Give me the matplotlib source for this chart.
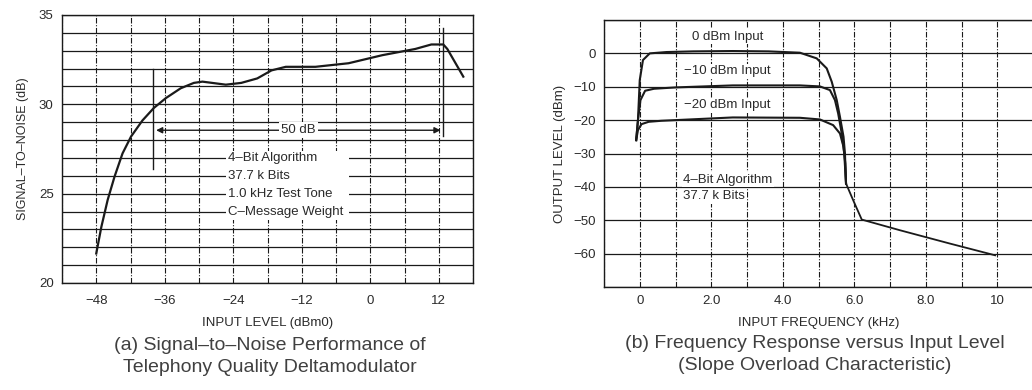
import matplotlib
matplotlib.use("Agg")
import matplotlib.pyplot as plt
from matplotlib.ticker import MultipleLocator, FixedLocator
from matplotlib.patches import Rectangle

plt.rcParams['font.family'] = ['Liberation Sans', 'DejaVu Sans']

# ---------------- data: (a) signal-to-noise ----------------
snr_input = [-48, -47.1, -46.0, -44.8, -43.4, -41.9, -39.9, -37.9, -35.8, -33.2, -30.9, -29.4,
             -27.7, -25.3, -22.6, -19.8, -17.3, -14.8, -9.6, -3.8, 2.1, 7.9, 10.7, 12.8, 13.5, 16.3]
snr_db = [21.65, 23.15, 24.65, 25.95, 27.25, 28.2, 29.1, 29.8, 30.35, 30.9, 31.2, 31.27,
          31.2, 31.1, 31.2, 31.45, 31.9, 32.1, 32.1, 32.3, 32.75, 33.1, 33.35, 33.35, 33.1, 31.55]
snr_xticks = [-48, -36, -24, -12, 0, 12]
snr_xticklabels = ['−48', '−36', '−24', '−12', '0', '12']
snr_yticks = [20, 25, 30, 35]
snr_note = ['4–Bit Algorithm', '37.7 k Bits', '1.0 kHz Test Tone', 'C–Message Weight']

# ---------------- data: (b) frequency response ----------------
freq_0dbm = [-0.1, -0.05, 0.0, 0.09, 0.28, 0.75, 1.5, 2.6, 3.6, 4.48, 4.95, 5.23, 5.37, 5.51, 5.6, 5.7, 5.74, 5.77]
level_0dbm = [-26, -20, -8, -2, 0, 0.4, 0.6, 0.7, 0.6, 0.2, -1.5, -4.5, -8.5, -14, -19, -25, -30, -39]
freq_10dbm = [-0.1, -0.05, 0.02, 0.15, 0.4, 1.0, 2.6, 4.48, 5.04, 5.32, 5.46, 5.55, 5.65, 5.72, 5.77]
level_10dbm = [-26, -20, -14, -11.2, -10.6, -10.2, -9.6, -9.6, -9.9, -11, -14, -18, -24, -30, -39]
freq_20dbm = [-0.1, -0.05, 0.05, 0.25, 0.6, 1.0, 2.6, 4.48, 5.04, 5.41, 5.6, 5.7, 5.75, 5.77]
level_20dbm = [-26, -23, -21.2, -20.5, -20.2, -20.0, -19.2, -19.3, -19.8, -21.5, -24, -28, -33, -39]
tail_freq = [5.77, 5.97, 6.21, 7.28, 8.68, 9.94]
tail_level = [-39, -44, -49.8, -53, -57, -60.5]
fr_xticks = [0, 2, 4, 6, 8, 10]
fr_xticklabels = ['0', '2.0', '4.0', '6.0', '8.0', '10']
fr_yticks = [0, -10, -20, -30, -40, -50, -60]
fr_yticklabels = ['0', '−10', '−20', '−30', '−40', '−50', '−60']
fr_curve_labels = ['0 dBm Input', '−10 dBm Input', '−20 dBm Input']
fr_note = ['4–Bit Algorithm', '37.7 k Bits']

INK = '#1a1a1a'
TXT = '#2a2a2a'
CAP = '#404040'
FS = 9.5
W, H = 1032, 390
fig = plt.figure(figsize=(W / 100, H / 100), dpi=100)
fig.patch.set_facecolor('white')

def style_axes(ax):
    for s in ax.spines.values():
        s.set_color(INK)
        s.set_linewidth(1.0)
    ax.tick_params(which='both', length=0, labelsize=FS, colors=TXT, pad=6)
    ax.xaxis.grid(True, which='both', color=INK, linewidth=0.8, linestyle=(0, (5, 1.5, 1, 1.5)))
    ax.yaxis.grid(True, which='both', color=INK, linewidth=0.9, linestyle='-')
    ax.set_axisbelow(True)

# ---------------- (a) ----------------
axa = fig.add_axes([62 / W, 1 - 283 / H, (473 - 62) / W, (283 - 15) / H])
axa.set_xlim(-54, 18)
axa.set_ylim(20, 35)
axa.xaxis.set_major_locator(FixedLocator(snr_xticks))
axa.set_xticklabels(snr_xticklabels)
axa.xaxis.set_minor_locator(MultipleLocator(6))
axa.yaxis.set_major_locator(FixedLocator(snr_yticks))
axa.yaxis.set_minor_locator(MultipleLocator(1))
style_axes(axa)
axa.tick_params(axis='x', pad=9)
axa.plot(snr_input, snr_db, color=INK, linewidth=1.6, zorder=3)

# 50 dB dynamic-range annotation
axa.plot([-38.0, -38.0], [26.4, 31.95], color=INK, linewidth=1.0, zorder=3)
axa.plot([12.8, 12.8], [28.2, 34.3], color=INK, linewidth=1.0, zorder=3)
axa.annotate('', xy=(-38.0, 28.55), xytext=(-12.6, 28.55),
             arrowprops=dict(arrowstyle='-|>', color=INK, lw=1.0, mutation_scale=9), zorder=3)
axa.annotate('', xy=(12.8, 28.55), xytext=(-12.6, 28.55),
             arrowprops=dict(arrowstyle='-|>', color=INK, lw=1.0, mutation_scale=9), zorder=3)
axa.text(-12.6, 28.55, '50 dB', ha='center', va='center', fontsize=FS, color=TXT,
         bbox=dict(facecolor='white', edgecolor='none', pad=1.5), zorder=4)
# white panel breaking the grid behind the conditions note
axa.add_patch(Rectangle((-25.3, 23.55), 21.6, 3.85, facecolor='white', edgecolor='none', zorder=2))
for i, line in enumerate(snr_note):
    axa.text(-24.9, 27.0 - i * 1.0, line, ha='left', va='center', fontsize=FS, color=TXT, zorder=4)

axa.set_ylabel('SIGNAL–TO–NOISE (dB)', fontsize=9, color=TXT, labelpad=7)
axa.set_xlabel('INPUT LEVEL (dBm0)', fontsize=9.5, color=TXT, labelpad=7)
fig.text(270 / W, 1 - 346 / H, '(a) Signal–to–Noise Performance of', ha='center', va='center',
         fontsize=14, color=CAP)
fig.text(270 / W, 1 - 367 / H, 'Telephony Quality Deltamodulator', ha='center', va='center',
         fontsize=14, color=CAP)

# ---------------- (b) ----------------
axb = fig.add_axes([604 / W, 1 - 287 / H, (1033 - 604) / W, (287 - 20) / H])
axb.set_xlim(-1, 11)
axb.set_ylim(-70, 10)
axb.xaxis.set_major_locator(FixedLocator(fr_xticks))
axb.set_xticklabels(fr_xticklabels)
axb.xaxis.set_minor_locator(MultipleLocator(1))
axb.yaxis.set_major_locator(FixedLocator(fr_yticks))
axb.set_yticklabels(fr_yticklabels)
axb.yaxis.set_minor_locator(MultipleLocator(10))
style_axes(axb)
for fx, ly in [(freq_0dbm, level_0dbm), (freq_10dbm, level_10dbm), (freq_20dbm, level_20dbm)]:
    axb.plot(fx, ly, color=INK, linewidth=1.5, zorder=3)
axb.plot(tail_freq, tail_level, color=INK, linewidth=1.3, zorder=3)
for lab, yy in zip(fr_curve_labels, [5.0, -5.4, -15.5]):
    axb.text(2.45, yy, lab, ha='center', va='center', fontsize=FS, color=TXT,
             bbox=dict(facecolor='white', edgecolor='none', pad=1.0), zorder=4)
for i, line in enumerate(fr_note):
    axb.text(1.22, -37.8 - i * 5.0, line, ha='left', va='center', fontsize=FS, color=TXT,
             bbox=dict(facecolor='white', edgecolor='none', pad=1.0), zorder=4)
axb.set_ylabel('OUTPUT LEVEL (dBm)', fontsize=9.5, color=TXT, labelpad=5)
axb.set_xlabel('INPUT FREQUENCY (kHz)', fontsize=9.5, color=TXT, labelpad=7)
fig.text(815 / W, 1 - 344 / H, '(b) Frequency Response versus Input Level', ha='center', va='center',
         fontsize=14, color=CAP)
fig.text(815 / W, 1 - 366 / H, '(Slope Overload Characteristic)', ha='center', va='center',
         fontsize=14, color=CAP)

fig.savefig('out.png', dpi=100, facecolor='white')
